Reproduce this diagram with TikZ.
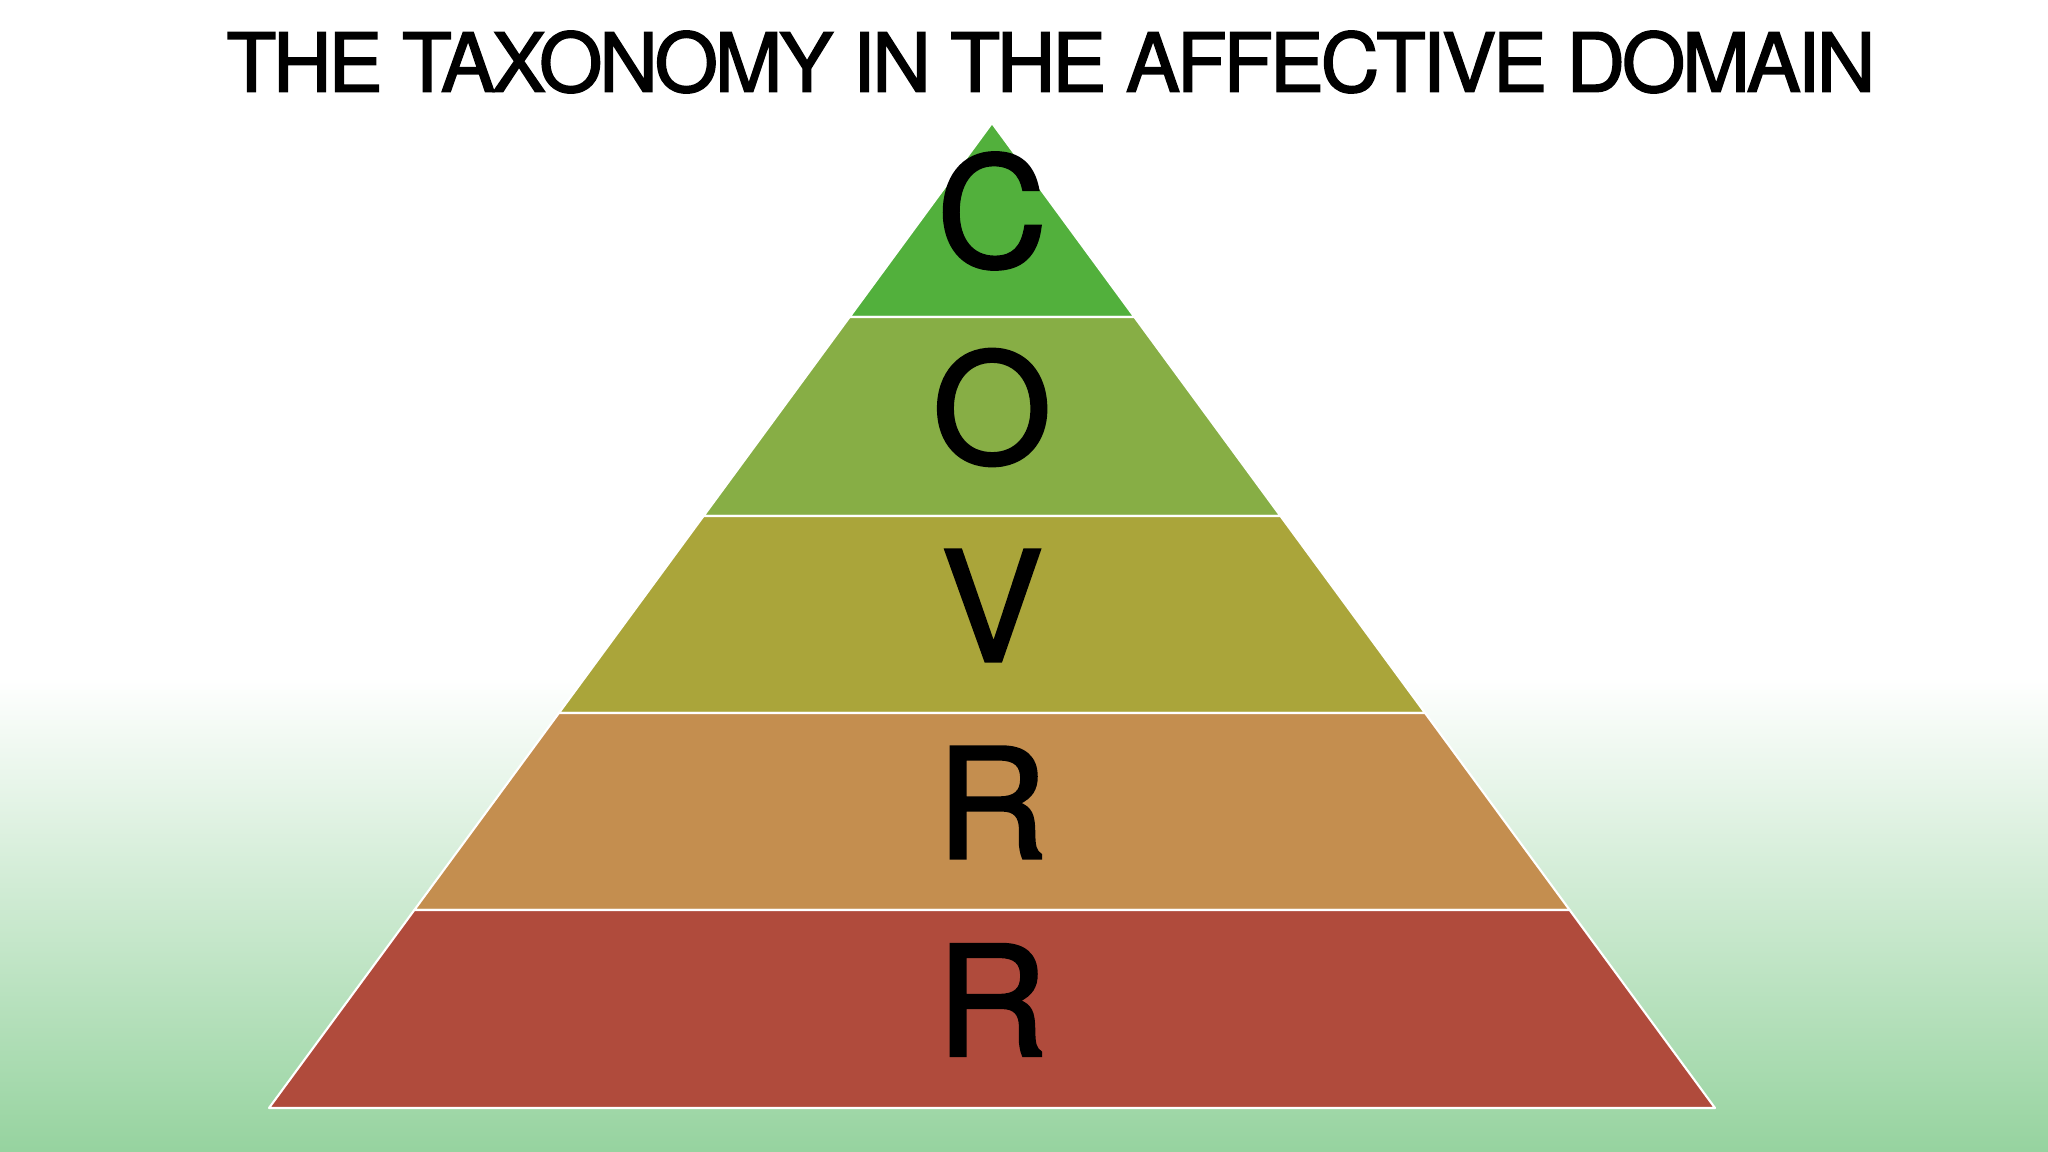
\documentclass[tikz,border=0pt]{standalone}
\usepackage{fontspec}
\setmainfont{TeX Gyre Heros}
\newfontfamily\titlefont[LetterSpace=-4.2,FakeBold=1.8]{TeX Gyre Heros}
\newfontfamily\letterfont[FakeBold=1.8]{TeX Gyre Heros}
\usepackage{tikz}
\usetikzlibrary{positioning}
\definecolor{bgGreen}{RGB}{150,211,159}
\definecolor{layerC}{RGB}{82,176,60}
\definecolor{layerO}{RGB}{135,174,69}
\definecolor{layerV}{RGB}{170,165,58}
\definecolor{layerRa}{RGB}{196,142,79}
\definecolor{layerRb}{RGB}{176,75,60}
\tikzstyle{layer}=[draw=white,line width=0.6pt,line join=round]
\tikzstyle{letter}=[inner sep=0pt,font=\letterfont\fontsize{43.5}{44}\selectfont]
\tikzstyle{heading}=[inner sep=0pt,font=\titlefont\fontsize{23.2}{28}\selectfont]
\begin{document}
\begin{tikzpicture}[x=0.01cm,y=-0.01cm]

	\def\ax{992};
	\def\ay{123};
	\def\k{0.734};

% background
\useasboundingbox (0,0) rectangle (2048,1152);
\fill[white] (0,0) rectangle (2048,678);
\shade[top color=white, bottom color=bgGreen] (0,677) rectangle (2048,1152);

% Label
\node[heading] (title) at (1051, 62) {THE TAXONOMY IN THE AFFECTIVE DOMAIN};

%layers, top to bottom
    \foreach \top/\bot/\col/\name/\lab in {123/317/layerC/c/C, 317/516/layerO/o/O, 516/713/layerV/v/V, 713/910/layerRa/ra/R, 910/1108/layerRb/rb/R}
    {
        \filldraw[layer,fill=\col] ({\ax-(\top-\ay)*\k},\top) -- ({\ax+(\top-\ay)*\k},\top)
            -- ({\ax+(\bot-\ay)*\k},\bot) -- ({\ax-(\bot-\ay)*\k},\bot) -- cycle;
        \node[letter] (\name) at (\ax, {(\top+\bot)/2-9}) {\lab};
    }

\end{tikzpicture}
\end{document}
